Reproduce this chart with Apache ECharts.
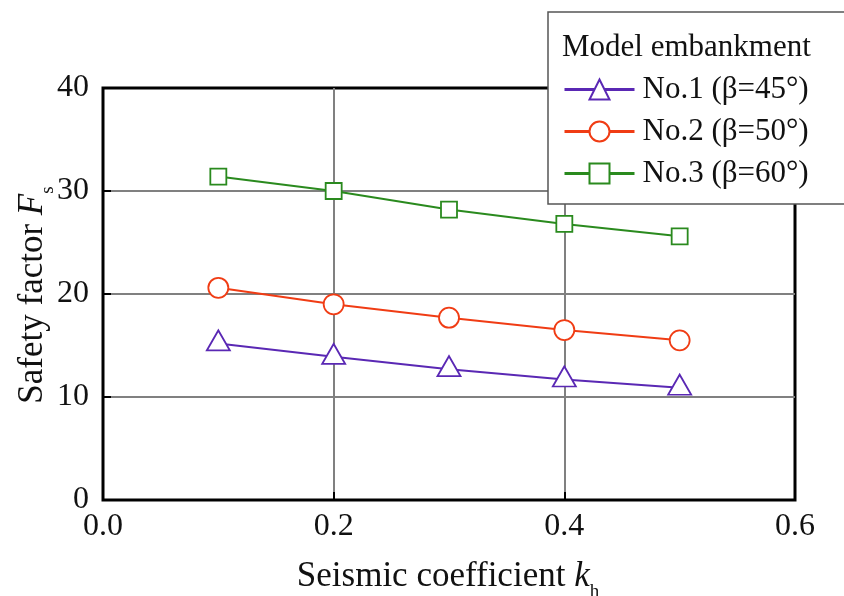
<!DOCTYPE html>
<html>
<head>
<meta charset="utf-8">
<script src="https://cdn.jsdelivr.net/npm/echarts@6/dist/echarts.min.js"></script>
<style>
  html, body { margin: 0; padding: 0; background: #fff; }
  #chart { width: 844px; height: 596px; }
</style>
</head>
<body>
<div id="chart"></div>
<script>
// Seismic coefficient k_h (x) and safety factor F_s for each model embankment
const seismicCoeff = [0.1, 0.2, 0.3, 0.4, 0.5];
const no1Values = [15.2, 13.9, 12.7, 11.7, 10.9];
const no2Values = [20.6, 19.0, 17.7, 16.5, 15.5];
const no3Values = [31.4, 30.0, 28.2, 26.8, 25.6];
const seriesNames = ['No.1 (β=45°)', 'No.2 (β=50°)', 'No.3 (β=60°)'];
const legendTitle = 'Model embankment';

const FONT = 'Liberation Serif, Times New Roman, serif';
const pairs = vals => seismicCoeff.map((x, i) => [x, vals[i]]);

function lineSeries(name, vals, color, symbol, size, offset) {
  return {
    name: name,
    type: 'line',
    data: pairs(vals),
    symbol: symbol,
    symbolSize: size,
    symbolOffset: offset || [0, 0],
    color: color,
    lineStyle: { color: color, width: 2 },
    itemStyle: { color: '#fff', borderColor: color, borderWidth: 1.8 },
    emphasis: { disabled: true },
    z: 3
  };
}

const gridLine = { show: true, showMinLine: false, showMaxLine: false, lineStyle: { color: '#808080', width: 2 } };
const titleRich = {
  it: { fontFamily: FONT, fontSize: 35, fontStyle: 'italic', lineHeight: 50 },
  sub: { fontFamily: FONT, fontSize: 19, verticalAlign: 'bottom', lineHeight: 19 }
};

const chart = echarts.init(document.getElementById('chart'));
chart.setOption({
  animation: false,
  backgroundColor: '#fff',
  grid: {
    left: 103, right: 49, top: 88, bottom: 96,
    show: true, borderColor: '#000', borderWidth: 3, backgroundColor: 'transparent'
  },
  xAxis: {
    type: 'value', min: 0, max: 0.6, interval: 0.2,
    axisLine: { show: false },
    axisTick: { show: true, inside: true, length: 8, lineStyle: { color: '#000', width: 2 } },
    axisLabel: {
      margin: 11, fontFamily: FONT, fontSize: 32, color: '#111',
      formatter: v => v.toFixed(1)
    },
    splitLine: gridLine
  },
  yAxis: {
    type: 'value', min: 0, max: 40, interval: 10,
    axisLine: { show: false },
    axisTick: { show: true, inside: true, length: 8, lineStyle: { color: '#000', width: 2 } },
    axisLabel: { margin: 14, fontFamily: FONT, fontSize: 32, color: '#111' },
    splitLine: gridLine
  },
  legend: {
    orient: 'vertical',
    left: 563, top: 74,
    itemWidth: 70, itemHeight: 25, itemGap: 11,
    padding: 0,
    lineStyle: { width: 3 },
    textStyle: { fontFamily: FONT, fontSize: 31, color: '#111', padding: [0, 0, 0, 3] },
    data: seriesNames,
    selectedMode: false,
    z: 20
  },
  graphic: [
    {
      type: 'rect', z: 15,
      shape: { x: 548, y: 12, width: 320, height: 192 },
      style: { fill: '#fff', stroke: '#555', lineWidth: 1.5 }
    },
    {
      type: 'text', z: 16, left: 562, top: 32,
      style: { text: legendTitle, font: '31px ' + FONT, fill: '#111' }
    },
    {
      type: 'text', z: 16, x: 448, y: 577,
      style: {
        text: 'Seismic coefficient {it|k}{sub|h}',
        font: '35px ' + FONT, fill: '#111',
        align: 'center', verticalAlign: 'middle',
        rich: titleRich
      }
    },
    {
      type: 'text', z: 16, x: 33, y: 295, rotation: Math.PI / 2,
      style: {
        text: 'Safety factor {it|F}{sub|s}',
        font: '35px ' + FONT, fill: '#111',
        align: 'center', verticalAlign: 'middle',
        rich: titleRich
      }
    }
  ],
  series: [
    lineSeries(seriesNames[0], no1Values, '#5a28b4', 'triangle', [23, 20], [0, -3]),
    lineSeries(seriesNames[1], no2Values, '#f03c14', 'circle', 20),
    lineSeries(seriesNames[2], no3Values, '#2a8a1e', 'rect', 16)
  ]
});
</script>
</body>
</html>
